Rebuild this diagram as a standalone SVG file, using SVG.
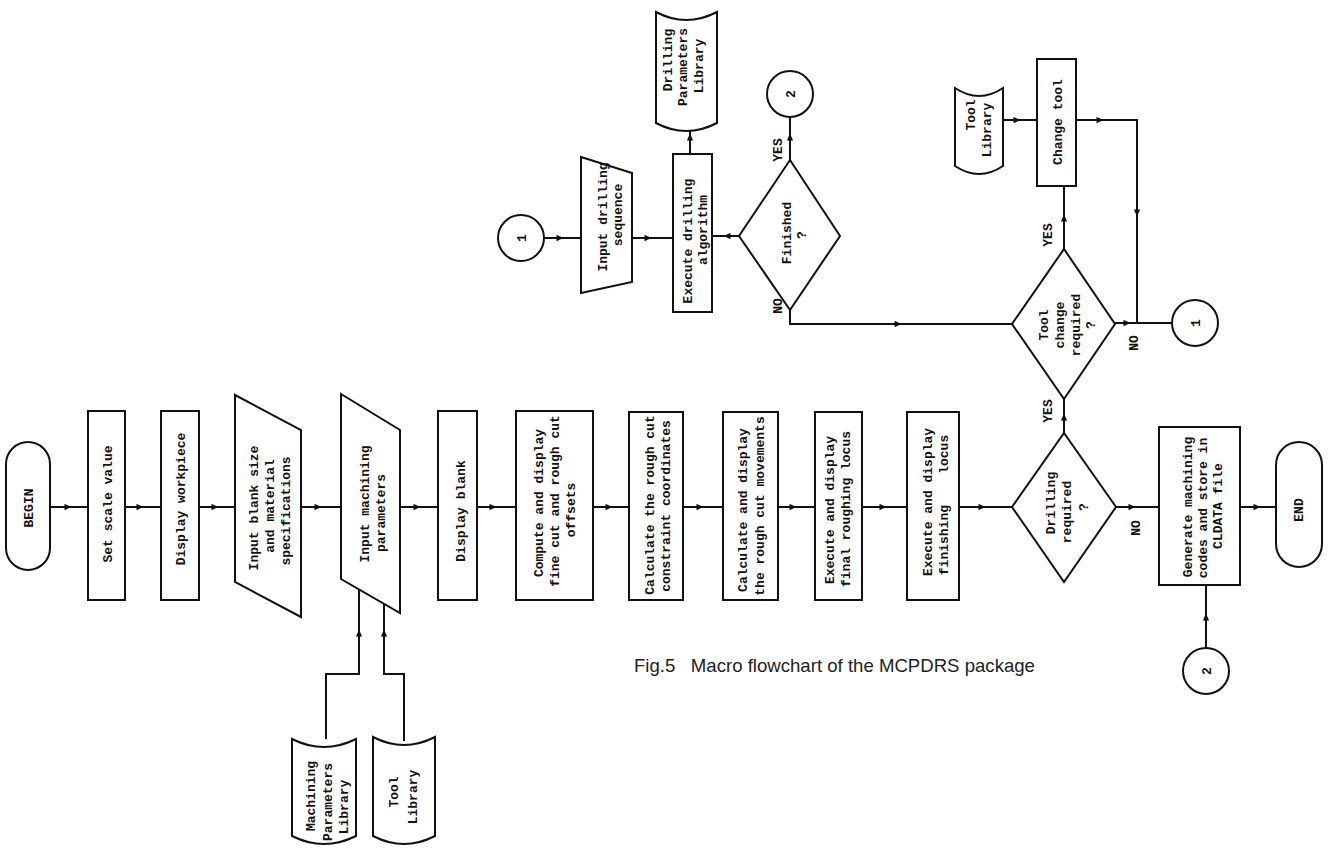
<svg xmlns="http://www.w3.org/2000/svg" width="1331" height="849" viewBox="0 0 1331 849">
<style>
.s{fill:#fff;stroke:#111;stroke-width:2}
.c{fill:none;stroke:#111;stroke-width:2}
.t{font-family:"Liberation Mono","DejaVu Sans Mono",monospace;font-size:13px;font-weight:bold;fill:#111;text-anchor:middle;white-space:pre}
.cap{font-family:"Liberation Sans",Arial,sans-serif;font-size:18.6px;fill:#222;white-space:pre}
</style>
<defs>
<marker id="a" viewBox="0 0 10 10" refX="5" refY="5" markerWidth="8" markerHeight="7" markerUnits="userSpaceOnUse" orient="auto"><path d="M0,0.5 L10,5 L0,9.5 z" fill="#111"/></marker>
</defs>
<rect width="1331" height="849" fill="#fff"/>

<g id="connectors">
<path class="c" marker-mid="url(#a)" d="M50,507 L68,507 L88,507"/>
<path class="c" marker-mid="url(#a)" d="M125,507 L140,507 L161,507"/>
<path class="c" marker-mid="url(#a)" d="M199,507 L215,507 L235,507"/>
<path class="c" marker-mid="url(#a)" d="M301,507 L318,507 L341,507"/>
<path class="c" marker-mid="url(#a)" d="M400,507 L417,507 L438,507"/>
<path class="c" marker-mid="url(#a)" d="M477,507 L493,507 L516,507"/>
<path class="c" marker-mid="url(#a)" d="M593,507 L609,507 L629,507"/>
<path class="c" marker-mid="url(#a)" d="M683,507 L700,507 L723,507"/>
<path class="c" marker-mid="url(#a)" d="M778,507 L793,507 L815,507"/>
<path class="c" marker-mid="url(#a)" d="M862,507 L883,507 L907,507"/>
<path class="c" marker-mid="url(#a)" d="M959,507 L982,507 L1012,507"/>
<path class="c" marker-mid="url(#a)" d="M1116,507 L1132,507 L1159,507"/>
<path class="c" marker-mid="url(#a)" d="M1240,507 L1257,507 L1276,507"/>
<path class="c" marker-mid="url(#a)" d="M1064,433 L1064,417 L1064,399"/>
<path class="c" marker-mid="url(#a)" d="M1064,249 L1064,218 L1064,186"/>
<path class="c" marker-mid="url(#a)" d="M1003,120 L1017,120 L1037,120"/>
<path class="c" d="M1076,120 L1137,120 L1137,323"/>
<path class="c" marker-end="url(#a)" d="M1094,120 L1100,120"/>
<path class="c" marker-end="url(#a)" d="M1137,205 L1137,213"/>
<path class="c" marker-mid="url(#a)" d="M1115,323 L1127,323 L1172,323"/>
<path class="c" marker-mid="url(#a)" d="M544,238 L560,238 L581,238"/>
<path class="c" marker-mid="url(#a)" d="M632,238 L648,238 L673,238"/>
<path class="c" marker-mid="url(#a)" d="M690,154 L690,137 L690,127"/>
<path class="c" marker-mid="url(#a)" d="M739,236 L727,236 L712,236"/>
<path class="c" marker-mid="url(#a)" d="M790,160 L790,137 L790,117"/>
<path class="c" d="M790,310 L790,324 L1012,324"/>
<path class="c" marker-end="url(#a)" d="M890,324 L898,324"/>
<path class="c" d="M326,739 L326,674 L359,674 L359,590"/>
<path class="c" marker-end="url(#a)" d="M359,640 L359,633"/>
<path class="c" d="M404,741 L404,674 L384,674 L384,604"/>
<path class="c" marker-end="url(#a)" d="M384,640 L384,633"/>
<path class="c" marker-mid="url(#a)" d="M1206,648 L1206,617 L1206,585"/>
</g>

<g id="begin"><rect class="s" x="6" y="442" width="44" height="128" rx="22"/><text class="t" transform="translate(28,508) rotate(-90)" dy="0.35em">BEGIN</text></g>
<g id="set-scale"><rect class="s" x="88" y="411" width="37" height="189"/><text class="t" transform="translate(107,504) rotate(-90)" dy="0.35em">Set scale value</text></g>
<g id="display-workpiece"><rect class="s" x="161" y="411" width="38" height="189"/><text class="t" transform="translate(180,499) rotate(-90)" dy="0.35em">Display workpiece</text></g>
<g id="input-blank"><path class="s" d="M235,395 L301,430 L301,617 L235,582 Z"/>
<text class="t" transform="translate(253,508) rotate(-90)" dy="0.35em">Input blank size</text>
<text class="t" transform="translate(269,506) rotate(-90)" dy="0.35em">and material</text>
<text class="t" transform="translate(285,511) rotate(-90)" dy="0.35em">specifications</text></g>
<g id="input-machining"><path class="s" d="M341,394 L400,430 L400,613 L341,579 Z"/>
<text class="t" transform="translate(364,504) rotate(-90)" dy="0.35em">Input machining</text>
<text class="t" transform="translate(380,513) rotate(-90)" dy="0.35em">parameters</text></g>
<g id="display-blank"><rect class="s" x="438" y="411" width="39" height="189"/><text class="t" transform="translate(460,511) rotate(-90)" dy="0.35em">Display blank</text></g>
<g id="compute"><rect class="s" x="516" y="411" width="77" height="189"/>
<text class="t" transform="translate(538,503) rotate(-90)" dy="0.35em">Compute and display</text>
<text class="t" transform="translate(554,501) rotate(-90)" dy="0.35em">fine cut and rough cut</text>
<text class="t" transform="translate(570,510) rotate(-90)" dy="0.35em">offsets</text></g>
<g id="calc-constraint"><rect class="s" x="629" y="412" width="54" height="188"/>
<text class="t" transform="translate(649,505) rotate(-90)" dy="0.35em">Calculate the rough cut</text>
<text class="t" transform="translate(665,506) rotate(-90)" dy="0.35em">constraint coordinates</text></g>
<g id="calc-movements"><rect class="s" x="723" y="412" width="55" height="188"/>
<text class="t" transform="translate(742,510) rotate(-90)" dy="0.35em">Calculate and display</text>
<text class="t" transform="translate(759,506) rotate(-90)" dy="0.35em">the rough cut movements</text></g>
<g id="exec-roughing"><rect class="s" x="815" y="412" width="47" height="188"/>
<text class="t" transform="translate(829,510) rotate(-90)" dy="0.35em">Execute and display</text>
<text class="t" transform="translate(845,509) rotate(-90)" dy="0.35em">final roughing locus</text></g>
<g id="exec-finishing"><rect class="s" x="907" y="412" width="52" height="188"/>
<text class="t" transform="translate(927,502) rotate(-90)" dy="0.35em">Execute and display</text>
<text class="t" transform="translate(943,505) rotate(-90)" dy="0.35em">finishing    locus</text></g>
<g id="drilling-required"><path class="s" d="M1064,433 L1116,507 L1064,582 L1012,507 Z"/>
<text class="t" transform="translate(1050,503) rotate(-90)" dy="0.35em">Drilling</text>
<text class="t" transform="translate(1066,512) rotate(-90)" dy="0.35em">required</text>
<text class="t" transform="translate(1083,507) rotate(-90)" dy="0.35em">?</text></g>
<g id="generate"><rect class="s" x="1159" y="427" width="81" height="158"/>
<text class="t" transform="translate(1187,507) rotate(-90)" dy="0.35em">Generate machining</text>
<text class="t" transform="translate(1202,508) rotate(-90)" dy="0.35em">codes and store in</text>
<text class="t" transform="translate(1217,506) rotate(-90)" dy="0.35em">CLDATA file</text></g>
<g id="end"><rect class="s" x="1276" y="442" width="46" height="125" rx="23"/><text class="t" transform="translate(1298,510) rotate(-90)" dy="0.35em">END</text></g>
<g id="connector-2-bottom"><circle class="s" cx="1206" cy="671" r="23"/><text class="t" transform="translate(1206,671) rotate(-90)" dy="0.35em">2</text></g>
<g id="tool-change"><path class="s" d="M1064,249 L1115,324 L1064,399 L1012,324 Z"/>
<text class="t" transform="translate(1043,325) rotate(-90)" dy="0.35em">Tool</text>
<text class="t" transform="translate(1059,325) rotate(-90)" dy="0.35em">change</text>
<text class="t" transform="translate(1075,325) rotate(-90)" dy="0.35em">required</text>
<text class="t" transform="translate(1090,325) rotate(-90)" dy="0.35em">?</text></g>
<g id="change-tool"><rect class="s" x="1037" y="59" width="39" height="127"/><text class="t" transform="translate(1057,122) rotate(-90)" dy="0.35em">Change tool</text></g>
<g id="tool-library-top"><path class="s" d="M955,88 Q979,104 1003,88 L1003,166 Q979,182 955,166 Z"/>
<text class="t" transform="translate(970,115) rotate(-90)" dy="0.35em">Tool</text>
<text class="t" transform="translate(986,130) rotate(-90)" dy="0.35em">Library</text></g>
<g id="connector-1-right"><circle class="s" cx="1195" cy="323" r="23"/><text class="t" transform="translate(1195,323) rotate(-90)" dy="0.35em">1</text></g>
<g id="connector-1-left"><circle class="s" cx="521" cy="238" r="23"/><text class="t" transform="translate(521,238) rotate(-90)" dy="0.35em">1</text></g>
<g id="input-drilling"><path class="s" d="M581,157 L632,173 L632,282 L581,293 Z"/>
<text class="t" transform="translate(602,217) rotate(-90)" dy="0.35em">Input drilling</text>
<text class="t" transform="translate(617,215) rotate(-90)" dy="0.35em">sequence</text></g>
<g id="exec-drilling"><rect class="s" x="673" y="154" width="39" height="158"/>
<text class="t" transform="translate(687,241) rotate(-90)" dy="0.35em">Execute drilling</text>
<text class="t" transform="translate(702,230) rotate(-90)" dy="0.35em">algorithm</text></g>
<g id="drilling-library"><path class="s" d="M656,12 Q686,28 717,12 L717,123 Q686,139 656,123 Z"/>
<text class="t" transform="translate(667,60) rotate(-90)" dy="0.35em">Drilling</text>
<text class="t" transform="translate(682,67) rotate(-90)" dy="0.35em">Parameters</text>
<text class="t" transform="translate(698,66) rotate(-90)" dy="0.35em">Library</text></g>
<g id="finished"><path class="s" d="M790,160 L840,236 L790,310 L739,236 Z"/>
<text class="t" transform="translate(786,233) rotate(-90)" dy="0.35em">Finished</text>
<text class="t" transform="translate(801,235) rotate(-90)" dy="0.35em">?</text></g>
<g id="connector-2-top"><circle class="s" cx="790" cy="94" r="23"/><text class="t" transform="translate(790,94) rotate(-90)" dy="0.35em">2</text></g>
<g id="machining-library"><path class="s" d="M292,739 Q324,755 356,739 L356,836 Q324,852 292,836 Z"/>
<text class="t" transform="translate(310,796) rotate(-90)" dy="0.35em">Machining</text>
<text class="t" transform="translate(327,802) rotate(-90)" dy="0.35em">Parameters</text>
<text class="t" transform="translate(343,807) rotate(-90)" dy="0.35em">Library</text></g>
<g id="tool-library-bottom"><path class="s" d="M373,737 Q404,753 435,737 L435,836 Q404,852 373,836 Z"/>
<text class="t" transform="translate(393,792) rotate(-90)" dy="0.35em">Tool</text>
<text class="t" transform="translate(412,797) rotate(-90)" dy="0.35em">Library</text></g>

<g id="labels">
<text class="t" transform="translate(777,150) rotate(-90)" dy="0.35em">YES</text>
<text class="t" transform="translate(777,306) rotate(-90)" dy="0.35em">NO</text>
<text class="t" transform="translate(1047,235) rotate(-90)" dy="0.35em">YES</text>
<text class="t" transform="translate(1047,411) rotate(-90)" dy="0.35em">YES</text>
<text class="t" transform="translate(1133,343) rotate(-90)" dy="0.35em">NO</text>
<text class="t" transform="translate(1135,528) rotate(-90)" dy="0.35em">NO</text>
</g>
<text class="cap" x="634" y="672">Fig.5   Macro flowchart of the MCPDRS package</text>
</svg>
